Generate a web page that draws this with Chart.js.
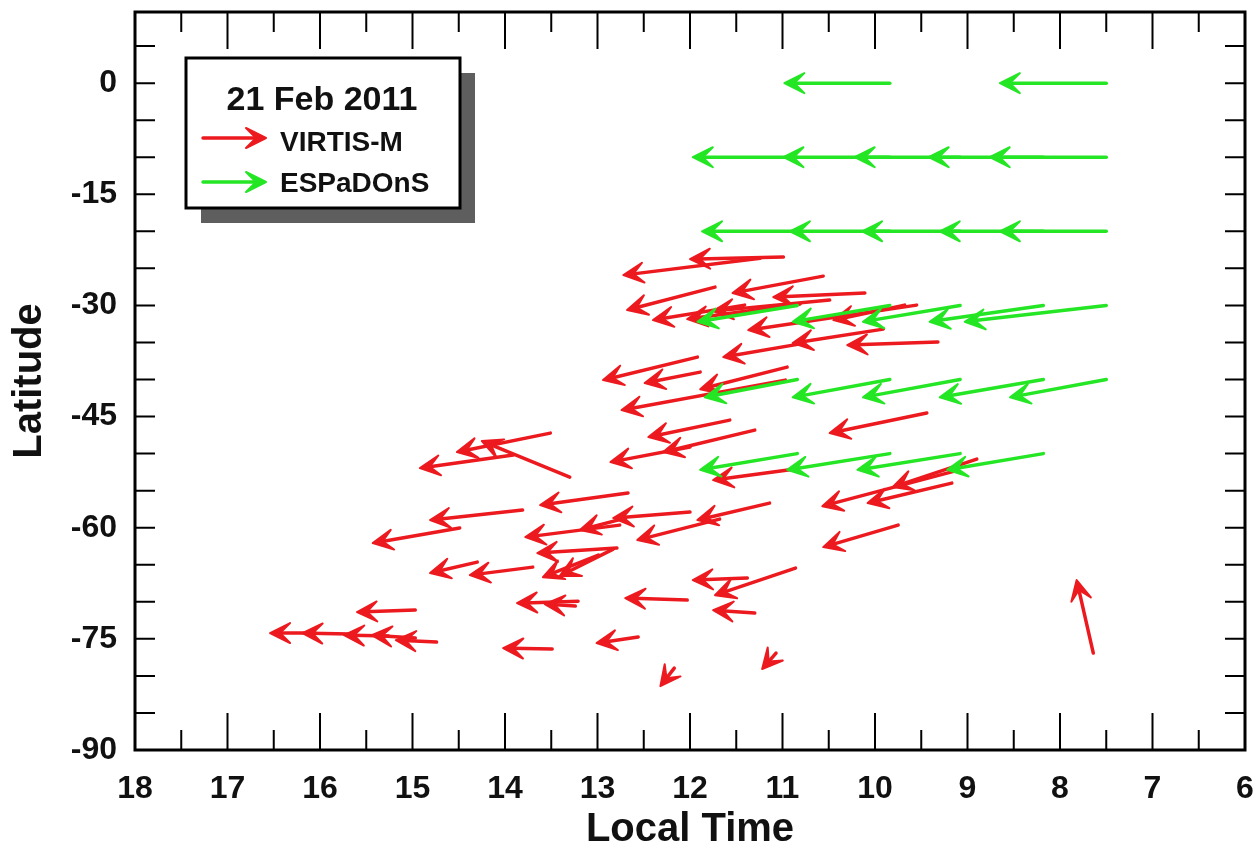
<!DOCTYPE html>
<html>
<head>
<meta charset="utf-8">
<script src="https://cdn.jsdelivr.net/npm/chart.js@4.4.0/dist/chart.umd.min.js"></script>
<style>
  body { margin: 0; background: #ffffff; }
  canvas { display: block; }
</style>
</head>
<body>
<canvas id="grafico" width="1259" height="850"></canvas>
<script>
// eixos
const xTicks = [18, 17, 16, 15, 14, 13, 12, 11, 10, 9, 8, 7, 6];
const yTicks = [0, -15, -30, -45, -60, -75, -90];

// VIRTIS-M (vermelho): cauda -> ponta, em hora local / latitude
const redTailLT = [10.99, 11.24, 11.73, 10.56, 10.11, 11.41, 10.81, 9.55, 9.68, 9.91,
  9.32, 10.76, 11.92, 11.89, 10.95, 10.97, 9.44, 10.49, 11.57, 11.30,
  12.00, 10.86, 8.90, 9.14, 9.17, 9.75, 11.14, 11.68, 12.67, 12.00,
  12.70, 12.76, 12.79, 12.83, 12.99, 13.21, 13.24, 12.03, 11.38, 10.86,
  11.30, 12.56, 12.17, 11.07, 7.64, 13.49, 13.51, 13.30, 13.91, 13.81,
  14.49, 14.30, 13.70, 14.97, 14.74, 14.97, 15.26, 15.68, 16.05];
const redTailLat = [-23.48, -23.62, -27.53, -26.05, -28.34, -29.96, -29.82, -29.96, -29.96, -33.20,
  -34.95, -35.09, -36.98, -39.00, -38.33, -40.08, -44.53, -29.28, -45.48, -46.83,
  -49.12, -52.09, -50.74, -52.36, -53.98, -59.65, -56.68, -58.84, -55.33, -57.89,
  -58.70, -59.65, -62.75, -62.89, -63.70, -69.91, -70.58, -69.77, -66.80, -65.45,
  -71.52, -74.76, -78.95, -76.92, -76.92, -76.38, -47.23, -53.17, -50.20, -57.62,
  -60.05, -64.64, -65.32, -71.12, -75.44, -74.90, -74.63, -74.36, -74.22];
const redHeadLT = [12.00, 12.72, 12.68, 11.54, 11.10, 12.40, 12.03, 11.37, 10.45, 10.89,
  10.30, 11.64, 12.94, 12.49, 11.89, 12.74, 10.49, 11.75, 12.45, 12.29,
  12.86, 11.75, 9.81, 10.57, 10.08, 10.56, 11.92, 12.57, 13.62, 12.83,
  13.19, 13.78, 13.65, 13.41, 13.59, 13.87, 13.57, 12.70, 11.97, 11.73,
  11.75, 13.01, 12.32, 11.22, 7.82, 14.02, 14.52, 14.25, 14.92, 14.81,
  15.43, 14.81, 14.38, 15.60, 15.18, 15.44, 15.74, 16.19, 16.54];
const redHeadLat = [-23.75, -25.91, -30.63, -28.34, -28.88, -31.98, -31.85, -33.33, -31.98, -35.09,
  -35.36, -36.98, -40.08, -40.49, -41.30, -44.13, -47.23, -30.77, -47.77, -49.80,
  -51.15, -53.58, -54.52, -57.09, -56.68, -62.62, -58.97, -61.67, -56.95, -58.70,
  -60.32, -61.27, -63.43, -66.53, -66.67, -70.18, -70.31, -69.50, -67.07, -69.10,
  -71.12, -75.57, -81.38, -79.08, -67.07, -76.25, -49.80, -48.31, -51.96, -58.97,
  -62.08, -66.13, -66.40, -71.39, -75.17, -74.49, -74.49, -74.22, -74.22];

// ESPaDOnS (verde)
const greenTailLT = [7.5, 9.84,
  7.5, 8.18, 9.08, 9.84, 10.84,
  7.5, 8.18, 9.08, 9.84, 10.84,
  7.5, 8.18, 9.08, 9.84, 10.84,
  7.5, 8.18, 9.08, 9.84, 10.84,
  8.18, 9.08, 9.84, 10.84];
const greenTailLat = [0, 0,
  -10, -10, -10, -10, -10,
  -20, -20, -20, -20, -20,
  -30, -30, -30, -30, -30,
  -40, -40, -40, -40, -40,
  -50, -50, -50, -50];
const greenHeadLT = [8.65, 10.98,
  8.76, 9.42, 10.22, 10.99, 11.97,
  8.65, 9.30, 10.14, 10.92, 11.87,
  9.03, 9.41, 10.13, 10.89, 11.92,
  8.54, 9.30, 10.13, 10.89, 11.84,
  9.22, 10.19, 10.95, 11.89];
const greenHeadLat = [0, 0,
  -10, -10, -10, -10, -10,
  -20, -20, -20, -20, -20,
  -32.2, -32.2, -32.2, -32.2, -32.2,
  -42.4, -42.4, -42.4, -42.4, -42.4,
  -52.2, -52.2, -52.2, -52.2];

const corVermelha = "#ec1a1f";
const corVerde = "#24e624";
const fonte = "Arial, 'Liberation Sans', sans-serif";

function juntarPontos(xs, ys) {
  return xs.map((x, i) => ({ x: x, y: ys[i] }));
}

function semPadding(s) {
  s.paddingTop = 0;
  s.paddingBottom = 0;
  s.paddingLeft = 0;
  s.paddingRight = 0;
}

function desenharSeta(ctx, x1, y1, x2, y2, cor) {
  const ang = Math.atan2(y2 - y1, x2 - x1);
  const comp = 20;
  const larg = 10;
  ctx.save();
  ctx.strokeStyle = cor;
  ctx.fillStyle = cor;
  ctx.lineWidth = 3.5;
  ctx.lineCap = "round";
  ctx.lineJoin = "round";
  ctx.beginPath();
  ctx.moveTo(x1, y1);
  ctx.lineTo(x2 - 8 * Math.cos(ang), y2 - 8 * Math.sin(ang));
  ctx.stroke();
  ctx.translate(x2, y2);
  ctx.rotate(ang);
  ctx.beginPath();
  ctx.moveTo(0, 0);
  ctx.lineTo(-comp, -larg);
  ctx.lineTo(-comp * 0.5, 0);
  ctx.lineTo(-comp, larg);
  ctx.closePath();
  ctx.fill();
  ctx.lineWidth = 2;
  ctx.stroke();
  ctx.restore();
}

const pluginSetas = {
  id: "setas",
  afterDatasetsDraw(chart) {
    const ctx = chart.ctx;
    const sx = chart.scales.x;
    const sy = chart.scales.y;
    chart.data.datasets.forEach((ds) => {
      ds.data.forEach((p, i) => {
        const h = ds.pontas[i];
        desenharSeta(ctx,
          sx.getPixelForValue(p.x), sy.getPixelForValue(p.y),
          sx.getPixelForValue(h.x), sy.getPixelForValue(h.y),
          ds.borderColor);
      });
    });
  }
};

const pluginMoldura = {
  id: "moldura",
  afterDraw(chart) {
    const ctx = chart.ctx;
    const a = chart.chartArea;
    const sx = chart.scales.x;
    const sy = chart.scales.y;
    ctx.save();
    ctx.strokeStyle = "#000000";
    ctx.lineWidth = 2;
    for (let v = 6; v <= 18; v += 0.5) {
      const px = sx.getPixelForValue(v);
      const t = Number.isInteger(v) ? 37 : 20;
      ctx.beginPath();
      ctx.moveTo(px, a.bottom); ctx.lineTo(px, a.bottom - t);
      ctx.moveTo(px, a.top); ctx.lineTo(px, a.top + t);
      ctx.stroke();
    }
    for (let v = -90; v <= 5; v += 5) {
      const py = sy.getPixelForValue(v);
      ctx.beginPath();
      ctx.moveTo(a.left, py); ctx.lineTo(a.left + 20, py);
      ctx.moveTo(a.right, py); ctx.lineTo(a.right - 20, py);
      ctx.stroke();
    }
    ctx.lineWidth = 3;
    ctx.strokeRect(a.left, a.top, a.right - a.left, a.bottom - a.top);

    // legenda
    const lx = 186, ly = 58, lw = 274, lh = 150;
    ctx.fillStyle = "#5e5e5e";
    ctx.fillRect(lx + 15, ly + 15, lw, lh);
    ctx.fillStyle = "#ffffff";
    ctx.fillRect(lx, ly, lw, lh);
    ctx.strokeStyle = "#000000";
    ctx.lineWidth = 3;
    ctx.strokeRect(lx, ly, lw, lh);
    ctx.fillStyle = "#111111";
    ctx.textAlign = "center";
    ctx.textBaseline = "alphabetic";
    ctx.font = "bold 34px " + fonte;
    ctx.fillText("21 Feb 2011", 322, 110);
    ctx.textAlign = "left";
    ctx.font = "bold 28px " + fonte;
    ctx.fillText("VIRTIS-M", 280, 151);
    ctx.fillText("ESPaDOnS", 280, 192);
    desenharSeta(ctx, 203, 138, 266, 138, corVermelha);
    desenharSeta(ctx, 203, 182, 266, 182, corVerde);
    ctx.restore();
  }
};

new Chart(document.getElementById("grafico"), {
  type: "scatter",
  data: {
    datasets: [{
      label: "VIRTIS-M",
      data: juntarPontos(redTailLT, redTailLat),
      pontas: juntarPontos(redHeadLT, redHeadLat),
      borderColor: corVermelha,
      backgroundColor: corVermelha,
      pointRadius: 0
    }, {
      label: "ESPaDOnS",
      data: juntarPontos(greenTailLT, greenTailLat),
      pontas: juntarPontos(greenHeadLT, greenHeadLat),
      borderColor: corVerde,
      backgroundColor: corVerde,
      pointRadius: 0
    }]
  },
  options: {
    responsive: false,
    animation: false,
    devicePixelRatio: 1,
    layout: { padding: { top: 12, right: 14, left: 0, bottom: 0 } },
    plugins: {
      legend: { display: false },
      tooltip: { enabled: false }
    },
    scales: {
      x: {
        type: "linear",
        reverse: true,
        min: 6,
        max: 18,
        afterBuildTicks: (s) => { s.ticks = xTicks.map(v => ({ value: v })); },
        afterFit: (s) => { s.height = 100; semPadding(s); },
        grid: { display: false, drawTicks: false },
        border: { display: false },
        ticks: {
          color: "#111111",
          padding: 20,
          maxRotation: 0,
          font: { family: fonte, size: 32, weight: "bold" }
        },
        title: {
          display: true,
          text: "Local Time",
          color: "#111111",
          padding: 0,
          font: { family: fonte, size: 40, weight: "bold", lineHeight: 1 }
        }
      },
      y: {
        type: "linear",
        min: -90,
        max: 9.6,
        afterBuildTicks: (s) => { s.ticks = yTicks.map(v => ({ value: v })); },
        afterFit: (s) => { s.width = 135; semPadding(s); },
        grid: { display: false, drawTicks: false },
        border: { display: false },
        ticks: {
          color: "#111111",
          padding: 18,
          font: { family: fonte, size: 32, weight: "bold" }
        },
        title: {
          display: true,
          text: "Latitude",
          color: "#111111",
          padding: { top: 10, bottom: 0 },
          font: { family: fonte, size: 40, weight: "bold", lineHeight: 1 }
        }
      }
    }
  },
  plugins: [pluginSetas, pluginMoldura]
});
</script>
</body>
</html>
